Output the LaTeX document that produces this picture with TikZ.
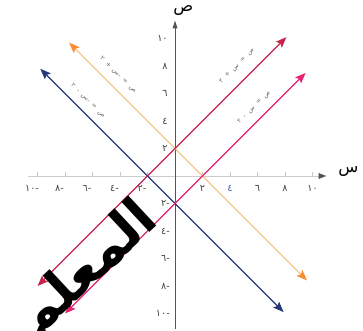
\documentclass[tikz,border=0pt]{standalone}
\usepackage{fontspec}
\newfontfamily\arabicfont[Script=Arabic]{DejaVu Sans}
\TeXXeTstate=1
\usetikzlibrary{arrows.meta}
\definecolor{lineblue}{RGB}{40,55,120}
\definecolor{lineorange}{RGB}{242,200,135}
\definecolor{tiporange}{RGB}{250,140,50}
\definecolor{linered}{RGB}{200,35,75}
\definecolor{linepink}{RGB}{230,35,115}
\definecolor{axisgray}{RGB}{85,85,85}
\definecolor{ticklblue}{RGB}{70,95,180}
\newcommand{\eqgap}{\hskip 4.5pt\relax}
\tikzset{twohead/.style={arrows={Stealth[length=11pt,width=8.5pt,inset=2pt,#1]-Stealth[length=11pt,width=8.5pt,inset=2pt,#1]}},twohead/.default={}}
\begin{document}
\begin{tikzpicture}[x=0.5cm,y=0.5cm,every node/.style={font=\arabicfont\fontsize{10}{12}\selectfont,inner sep=1pt},
  graphline/.style={line width=1.3pt,draw=#1},ticklbl/.style={text=black!75},eqlbl/.style={font=\arabicfont\fontsize{6.5}{7}\selectfont,text=black!60}]
\useasboundingbox (-12.73,-11.2) rectangle (13.67,12.8);
% axes
\coordinate (xs) at (-10.7,0); \coordinate (xe) at (11.0,0); \coordinate (ys) at (0,-11.1); \coordinate (ye) at (0,11.3);
\draw[line width=0.8pt,gray!40,arrows={-Triangle[length=8pt,width=6pt,color=axisgray]}] (xs) -- (xe);
\draw[line width=1pt,axisgray,-{Triangle[length=8pt,width=5pt]}] (ys) -- (ye);
\node[font=\arabicfont\fontsize{17}{18}\selectfont] (sin) at (12.6,0.3) {س}; \node[font=\arabicfont\fontsize{17}{18}\selectfont] (sad) at (0.6,12.0) {ص};
\foreach \v/\t in {2/٢,4/٤,6/٦,8/٨,10/١٠} {
  \draw[gray!45,line width=0.6pt] (\v,0) -- (\v,0.3); \draw[gray!45,line width=0.6pt] (-\v,0) -- (-\v,0.3);
  \node[ticklbl] (xp\v) at (\v,-0.9) {\t}; \node[ticklbl] (xn\v) at (-\v-0.4,-0.9) {\t\hbox{-}};
  \node[ticklbl,anchor=east] (yp\v) at (-0.45,\v) {\t}; \node[ticklbl,anchor=east] (yn\v) at (-0.3,-\v) {\t\hbox{-}};
}
\node[ticklbl,text=ticklblue,fill=white] at (xp4) {٤};
% lines
\coordinate (b1) at (-9.8,7.8); \coordinate (b2) at (7.9,-9.9); \coordinate (o1) at (-7.7,9.7); \coordinate (o2) at (9.6,-7.6);
\coordinate (r1) at (-10,-8); \coordinate (r2) at (8.1,10.1); \coordinate (p1) at (-8,-10); \coordinate (p2) at (9.5,7.5);
\draw[graphline=lineorange,twohead={color=tiporange}] (o1) -- (o2);
\draw[graphline=lineblue,twohead] (b1) -- (b2);
\draw[graphline=linered,twohead] (r1) -- (r2);
\draw[graphline=linepink,twohead] (p1) -- (p2);
\node[eqlbl,rotate=-45] (eqo) at (-4.15,7.35) {\beginR ص\eqgap=\eqgap-س\eqgap+\eqgap٢\endR}; \node[eqlbl,rotate=-45] (eqb) at (-6.33,5.45) {\beginR ص\eqgap=\eqgap-س\eqgap-\eqgap٢\endR};
\node[eqlbl,rotate=45] (eqr) at (4.5,8.0) {\beginR ص\eqgap=\eqgap س\eqgap+\eqgap٢\endR}; \node[eqlbl,rotate=45] (eqp) at (5.75,5.0) {\beginR ص\eqgap=\eqgap س\eqgap-\eqgap٢\endR};
% watermark
\node[font=\arabicfont\bfseries\fontsize{56}{60}\selectfont,rotate=43] (wm) at (-6.3,-6.9) {\beginR المعلم\endR};
\end{tikzpicture}
\end{document}
